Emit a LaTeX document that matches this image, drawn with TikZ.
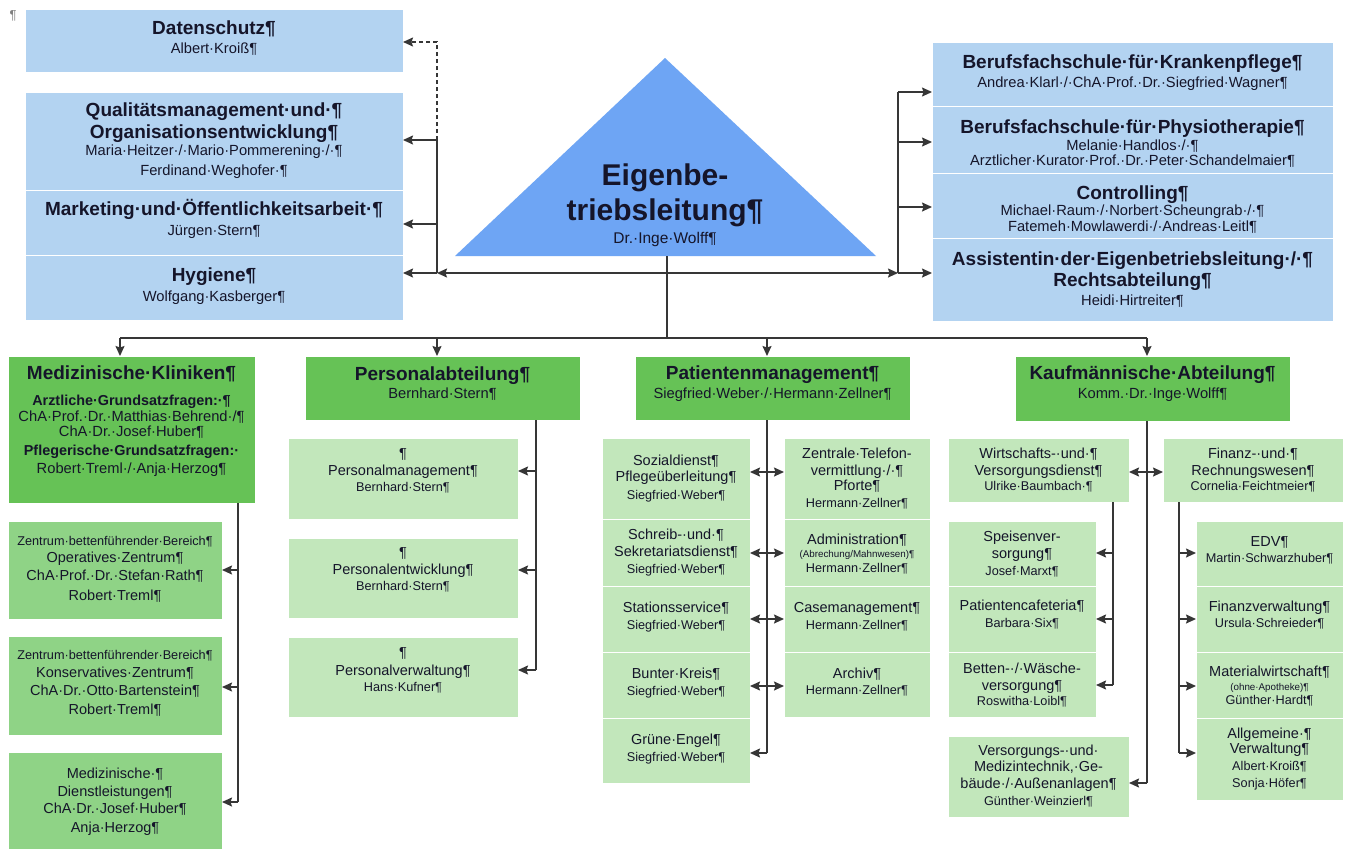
\documentclass[tikz,border=0pt]{standalone}
\usepackage{fontspec}
\setmainfont{Liberation Sans}
\usetikzlibrary{arrows.meta}
\definecolor{cBlue}{HTML}{B3D3F1}
\definecolor{cTri}{HTML}{6EA5F4}
\definecolor{cDG}{HTML}{66C256}
\definecolor{cMG}{HTML}{8FD386}
\definecolor{cLG}{HTML}{C2E7BB}
\definecolor{cLine}{HTML}{363636}
\definecolor{cTxt}{HTML}{15152A}
% first line of a box: size, baseline offset from top, weight, text
\newcommand\Lo[4]{{\fontsize{#1pt}{#1pt}\selectfont#3\vspace*{\dimexpr#2pt-24pt\relax}\rule{0pt}{24pt}#4\par}}
% following line: size, baseline distance, weight, text
\newcommand\Lx[4]{{\fontsize{#1pt}{#2pt}\selectfont#3#4\par}}
% box: style, name, x, y, w, h, content
\newcommand\bx[7]{\node[#1] (#2) at (#3,#4) {\parbox[c][#6pt][t]{#5pt}{\lineskiplimit=-\maxdimen\centering #7\par}};}
\tikzset{
  box/.style={anchor=north west, inner sep=0pt, outer sep=0pt, draw=white, line width=1pt, text=cTxt},
  bbox/.style={box, fill=cBlue},
  dgbox/.style={box, fill=cDG},
  mgbox/.style={box, fill=cMG},
  lgbox/.style={box, fill=cLG},
  conn/.style={draw=cLine, line width=1.5pt},
  arr/.style={conn, -{Stealth[length=10pt,width=9pt,inset=1.5pt]}},
  darr/.style={conn, {Stealth[length=10pt,width=9pt,inset=1.5pt]}-{Stealth[length=10pt,width=9pt,inset=1.5pt]}}
}
\begin{document}
\begin{tikzpicture}[x=1pt,y=-1pt]
\useasboundingbox (0,0) rectangle (1348,849);
\fill[white] (0,0) rectangle (1348,849);

\node[text=gray, font=\fontsize{13pt}{13pt}\selectfont] (pil) at (13,16) {¶};

% ---------- top left (blue) ----------
\bx{bbox}{ds}{25}{9}{378}{63}{\Lo{19}{25.65}{\bfseries}{Datenschutz¶}\Lx{14.7}{18.5}{}{Albert·Kroiß¶}}
\bx{bbox}{qm}{25}{92}{378}{98}{\Lo{19}{24.65}{\bfseries}{Qualitätsmanagement·und·¶}\Lx{19}{22}{\bfseries}{Organisationsentwicklung¶}\Lx{14.7}{16.5}{}{Maria·Heitzer·/·Mario·Pommerening·/·¶}\Lx{14.7}{20}{}{Ferdinand·Weghofer·¶}}
\bx{bbox}{mk}{25}{190}{378}{65}{\Lo{19}{25.65}{\bfseries}{Marketing·und·Öffentlichkeitsarbeit·¶}\Lx{14.7}{19.5}{}{Jürgen·Stern¶}}
\bx{bbox}{hy}{25}{255}{378}{65}{\Lo{19}{26.65}{\bfseries}{Hygiene¶}\Lx{14.7}{19.5}{}{Wolfgang·Kasberger¶}}

% ---------- top right (blue) ----------
\bx{bbox}{kp}{932}{42}{401}{64}{\Lo{19}{26.65}{\bfseries}{Berufsfachschule·für·Krankenpflege¶}\Lx{14.7}{18.5}{}{Andrea·Klarl·/·ChA·Prof.·Dr.·Siegfried·Wagner¶}}
\bx{bbox}{ph}{932}{106}{401}{67}{\Lo{19}{27.3}{\bfseries}{Berufsfachschule·für·Physiotherapie¶}\Lx{14.7}{16.8}{}{Melanie·Handlos·/·¶}\Lx{14.7}{15.7}{}{Arztlicher·Kurator·Prof.·Dr.·Peter·Schandelmaier¶}}
\bx{bbox}{co}{932}{173}{401}{65}{\Lo{19}{26.3}{\bfseries}{Controlling¶}\Lx{14.7}{15.8}{}{Michael·Raum·/·Norbert·Scheungrab·/·¶}\Lx{14.7}{16.7}{}{Fatemeh·Mowlawerdi·/·Andreas·Leitl¶}}
\bx{bbox}{as}{932}{238}{401}{83}{\Lo{19}{27.95}{\bfseries}{Assistentin·der·Eigenbetriebsleitung·/·¶}\Lx{19}{20.7}{\bfseries}{Rechtsabteilung¶}\Lx{14.7}{18.5}{}{Heidi·Hirtreiter¶}}

% ---------- triangle ----------
\coordinate (tA) at (665,58);
\coordinate (tL) at (455,256);
\coordinate (tR) at (876,256);
\fill[cTri] (tA) -- (tL) -- (tR) -- cycle;
\node[anchor=north, inner sep=0pt, text=cTxt] (ebt) at (665,150) {\parbox[c][100pt][t]{300pt}{\lineskiplimit=-\maxdimen\centering\Lo{30}{35.5}{\bfseries}{Eigenbe-}\Lx{30}{35}{\bfseries}{triebsleitung¶}\Lx{15.5}{22.9}{}{Dr.·Inge·Wolff¶}\par}};

% ---------- green headers ----------
\bx{dgbox}{med}{8}{356}{247}{147}{\Lo{19}{23.65}{\bfseries}{Medizinische·Kliniken¶}\Lx{14.4}{25.5}{\bfseries}{Arztliche·Grundsatzfragen:·¶}\Lx{14.7}{16}{}{ChA·Prof.·Dr.·Matthias·Behrend·/¶}\Lx{14.7}{15.7}{}{ChA·Dr.·Josef·Huber¶}\Lx{14.4}{18.3}{\bfseries}{Pflegerische·Grundsatzfragen:·}\Lx{14.7}{18.3}{}{Robert·Treml·/·Anja·Herzog¶}}
\bx{dgbox}{pa}{305}{356}{275}{64}{\Lo{19}{24}{\bfseries}{Personalabteilung¶}\Lx{14.7}{18.5}{}{Bernhard·Stern¶}}
\bx{dgbox}{pm}{635}{356}{275}{64}{\Lo{19}{23}{\bfseries}{Patientenmanagement¶}\Lx{14.7}{19.5}{}{Siegfried·Weber·/·Hermann·Zellner¶}}
\bx{dgbox}{ka}{1015}{356}{275}{65}{\Lo{19}{23}{\bfseries}{Kaufmännische·Abteilung¶}\Lx{14.7}{19.5}{}{Komm.·Dr.·Inge·Wolff¶}}

% ---------- Medizinische Kliniken subs ----------
\bx{mgbox}{m1}{8}{521}{214}{98}{\Lo{12.7}{24.45}{}{Zentrum·bettenführender·Bereich¶}\Lx{14.5}{16.9}{}{Operatives·Zentrum¶}\Lx{14.5}{18.4}{}{ChA·Prof.·Dr.·Stefan·Rath¶}\Lx{14.5}{19.3}{}{Robert·Treml¶}}
\bx{mgbox}{m2}{8}{636}{214}{99}{\Lo{12.7}{23.45}{}{Zentrum·bettenführender·Bereich¶}\Lx{14.5}{17.9}{}{Konservatives·Zentrum¶}\Lx{14.5}{17.7}{}{ChA·Dr.·Otto·Bartenstein¶}\Lx{14.5}{19.3}{}{Robert·Treml¶}}
\bx{mgbox}{m3}{8}{752}{214}{97}{\Lo{14.5}{26.4}{}{Medizinische·¶}\Lx{14.5}{18.4}{}{Dienstleistungen¶}\Lx{14.5}{16.6}{}{ChA·Dr.·Josef·Huber¶}\Lx{14.5}{19}{}{Anja·Herzog¶}}

% ---------- Personalabteilung subs ----------
\bx{lgbox}{p1}{288}{438}{230}{81}{\Lo{14.5}{20.4}{}{¶}\Lx{14.5}{16.7}{}{Personalmanagement¶}\Lx{12.7}{16}{}{Bernhard·Stern¶}}
\bx{lgbox}{p2}{288}{538}{230}{80}{\Lo{14.5}{19.4}{}{¶}\Lx{14.5}{17}{}{Personalentwicklung¶}\Lx{12.7}{16}{}{Bernhard·Stern¶}}
\bx{lgbox}{p3}{288}{637}{230}{80}{\Lo{14.5}{20.4}{}{¶}\Lx{14.5}{17.7}{}{Personalverwaltung¶}\Lx{12.7}{16}{}{Hans·Kufner¶}}

% ---------- Patientenmanagement subs ----------
\bx{lgbox}{q1}{602}{438}{148}{81}{\Lo{14.5}{27.1}{}{Sozialdienst¶}\Lx{14.5}{16.7}{}{Pflegeüberleitung¶}\Lx{12.7}{17.7}{}{Siegfried·Weber¶}}
\bx{lgbox}{q2}{602}{519}{148}{67}{\Lo{14.5}{20.4}{}{Schreib-·und·¶}\Lx{14.5}{17.4}{}{Sekretariatsdienst¶}\Lx{12.7}{17}{}{Siegfried·Weber¶}}
\bx{lgbox}{q3}{602}{586}{148}{66}{\Lo{14.5}{26.8}{}{Stationsservice¶}\Lx{12.7}{16.7}{}{Siegfried·Weber¶}}
\bx{lgbox}{q4}{602}{652}{148}{66}{\Lo{14.5}{26.4}{}{Bunter·Kreis¶}\Lx{12.7}{17}{}{Siegfried·Weber¶}}
\bx{lgbox}{q5}{602}{718}{148}{65}{\Lo{14.5}{26.4}{}{Grüne·Engel¶}\Lx{12.7}{16.8}{}{Siegfried·Weber¶}}
\bx{lgbox}{r1}{784}{438}{146}{81}{\Lo{14.5}{20.4}{}{Zentrale·Telefon-}\Lx{14.5}{16.7}{}{vermittlung·/·¶}\Lx{14.5}{15.7}{}{Pforte¶}\Lx{12.7}{16.4}{}{Hermann·Zellner¶}}
\bx{lgbox}{r2}{784}{519}{146}{67}{\Lo{14.5}{25.4}{}{Administration¶}\Lx{9.8}{13.4}{}{(Abrechung/Mahnwesen)¶}\Lx{12.7}{14.4}{}{Hermann·Zellner¶}}
\bx{lgbox}{r3}{784}{586}{146}{66}{\Lo{14.5}{26.8}{}{Casemanagement¶}\Lx{12.7}{16.7}{}{Hermann·Zellner¶}}
\bx{lgbox}{r4}{784}{652}{146}{65}{\Lo{14.5}{26.4}{}{Archiv¶}\Lx{12.7}{16}{}{Hermann·Zellner¶}}

% ---------- Kaufmaennische subs ----------
\bx{lgbox}{k1}{948}{438}{181}{64}{\Lo{14.5}{20.4}{}{Wirtschafts-·und·¶}\Lx{14.5}{16.7}{}{Versorgungsdienst¶}\Lx{12.7}{15.4}{}{Ulrike·Baumbach·¶}}
\bx{lgbox}{k2}{1163}{438}{180}{64}{\Lo{14.5}{20.4}{}{Finanz-·und·¶}\Lx{14.5}{16.7}{}{Rechnungswesen¶}\Lx{12.7}{15.4}{}{Cornelia·Feichtmeier¶}}
\bx{lgbox}{k3}{948}{521}{148}{65}{\Lo{14.5}{20.4}{}{Speisenver-}\Lx{14.5}{17.4}{}{sorgung¶}\Lx{12.7}{17}{}{Josef·Marxt¶}}
\bx{lgbox}{k4}{948}{586}{148}{66}{\Lo{14.5}{24.8}{}{Patientencafeteria¶}\Lx{12.7}{16.4}{}{Barbara·Six¶}}
\bx{lgbox}{k5}{948}{652}{148}{65}{\Lo{14.5}{21.4}{}{Betten-·/·Wäsche-}\Lx{14.5}{16.7}{}{versorgung¶}\Lx{12.7}{15.4}{}{Roswitha·Loibl¶}}
\bx{lgbox}{k6}{948}{736}{181}{81}{\Lo{14.5}{19.1}{}{Versorgungs-·und·}\Lx{14.5}{16.7}{}{Medizintechnik,·Ge-}\Lx{14.5}{16.6}{}{bäude·/·Außenanlagen¶}\Lx{12.7}{16.8}{}{Günther·Weinzierl¶}}
\bx{lgbox}{k7}{1196}{521}{147}{65}{\Lo{14.5}{25.8}{}{EDV¶}\Lx{12.7}{16}{}{Martin·Schwarzhuber¶}}
\bx{lgbox}{k8}{1196}{586}{147}{66}{\Lo{14.5}{25.8}{}{Finanzverwaltung¶}\Lx{12.7}{16}{}{Ursula·Schreieder¶}}
\bx{lgbox}{k9}{1196}{652}{147}{66}{\Lo{14.5}{24.8}{}{Materialwirtschaft¶}\Lx{9.8}{13.4}{}{(ohne·Apotheke)¶}\Lx{12.7}{14.3}{}{Günther·Hardt¶}}
\bx{lgbox}{k10}{1196}{718}{147}{82}{\Lo{14.5}{20.4}{}{Allgemeine·¶}\Lx{14.5}{15}{}{Verwaltung¶}\Lx{12.7}{17.1}{}{Albert·Kroiß¶}\Lx{12.7}{16.7}{}{Sonja·Höfer¶}}

% ---------- connectors: top ----------
\coordinate (lb0) at (437,42);
\coordinate (lb1) at (437,140);
\coordinate (lb2) at (437,224);
\coordinate (lb3) at (437,273);
\coordinate (rb0) at (898,92);
\coordinate (rb1) at (898,142);
\coordinate (rb2) at (898,207);
\coordinate (rb3) at (898,273);
\coordinate (tb) at (667,256);
\coordinate (gc) at (667,338);
\coordinate (g1) at (120,338);
\coordinate (g2) at (437,338);
\coordinate (g3) at (767,338);
\coordinate (g4) at (1147,338);

\draw[arr, dash pattern=on 4pt off 3pt] (lb1) -- (lb0) -- (ds.east |- lb0);
\draw[conn] (lb3) -- (lb1);
\draw[arr] (lb1) -- (qm.east |- lb1);
\draw[arr] (lb2) -- (mk.east |- lb2);
\draw[arr] (lb3) -- (hy.east |- lb3);
\draw[darr] (lb3) -- (rb3);
\draw[conn] (rb0) -- (rb3);
\draw[arr] (rb0) -- (kp.west |- rb0);
\draw[arr] (rb1) -- (ph.west |- rb1);
\draw[arr] (rb2) -- (co.west |- rb2);
\draw[arr] (rb3) -- (as.west |- rb3);
\draw[conn] (tb) -- (gc);
\draw[conn] (g1) -- (g4);
\draw[arr] (g1) -- (g1 |- med.north);
\draw[arr] (g2) -- (g2 |- pa.north);
\draw[arr] (g3) -- (g3 |- pm.north);
\draw[arr] (g4) -- (g4 |- ka.north);

% ---------- connectors: Medizinische Kliniken ----------
\coordinate (mb0) at (238,503);
\coordinate (mb1) at (238,570);
\coordinate (mb2) at (238,687);
\coordinate (mb3) at (238,802);
\draw[conn] (mb0) -- (mb3);
\draw[arr] (mb1) -- (m1.east |- mb1);
\draw[arr] (mb2) -- (m2.east |- mb2);
\draw[arr] (mb3) -- (m3.east |- mb3);

% ---------- connectors: Personal ----------
\coordinate (pb0) at (536,420);
\coordinate (pb1) at (536,471);
\coordinate (pb2) at (536,570);
\coordinate (pb3) at (536,670);
\draw[conn] (pb0) -- (pb3);
\draw[arr] (pb1) -- (p1.east |- pb1);
\draw[arr] (pb2) -- (p2.east |- pb2);
\draw[arr] (pb3) -- (p3.east |- pb3);

% ---------- connectors: Patienten ----------
\coordinate (qb0) at (767,420);
\coordinate (qb1) at (767,472);
\coordinate (qb2) at (767,553);
\coordinate (qb3) at (767,619);
\coordinate (qb4) at (767,686);
\coordinate (qb5) at (767,753);
\draw[conn] (qb0) -- (qb5);
\draw[darr] (q1.east |- qb1) -- (r1.west |- qb1);
\draw[darr] (q2.east |- qb2) -- (r2.west |- qb2);
\draw[darr] (q3.east |- qb3) -- (r3.west |- qb3);
\draw[darr] (q4.east |- qb4) -- (r4.west |- qb4);
\draw[arr] (qb5) -- (q5.east |- qb5);

% ---------- connectors: Kaufmaennische ----------
\coordinate (kb0) at (1147,421);
\coordinate (kb1) at (1147,472);
\coordinate (kb2) at (1147,783);
\draw[conn] (kb0) -- (kb2);
\draw[darr] (k1.east |- kb1) -- (k2.west |- kb1);
\draw[arr] (kb2) -- (k6.east |- kb2);
\coordinate (kl0) at (1113,502);
\coordinate (kl1) at (1113,553);
\coordinate (kl2) at (1113,619);
\coordinate (kl3) at (1113,685);
\draw[conn] (kl0) -- (kl3);
\draw[arr] (kl1) -- (k3.east |- kl1);
\draw[arr] (kl2) -- (k4.east |- kl2);
\draw[arr] (kl3) -- (k5.east |- kl3);
\coordinate (kr0) at (1179,502);
\coordinate (kr1) at (1179,553);
\coordinate (kr2) at (1179,619);
\coordinate (kr3) at (1179,686);
\coordinate (kr4) at (1179,753);
\draw[conn] (kr0) -- (kr4);
\draw[arr] (kr1) -- (k7.west |- kr1);
\draw[arr] (kr2) -- (k8.west |- kr2);
\draw[arr] (kr3) -- (k9.west |- kr3);
\draw[arr] (kr4) -- (k10.west |- kr4);
\end{tikzpicture}
\end{document}
